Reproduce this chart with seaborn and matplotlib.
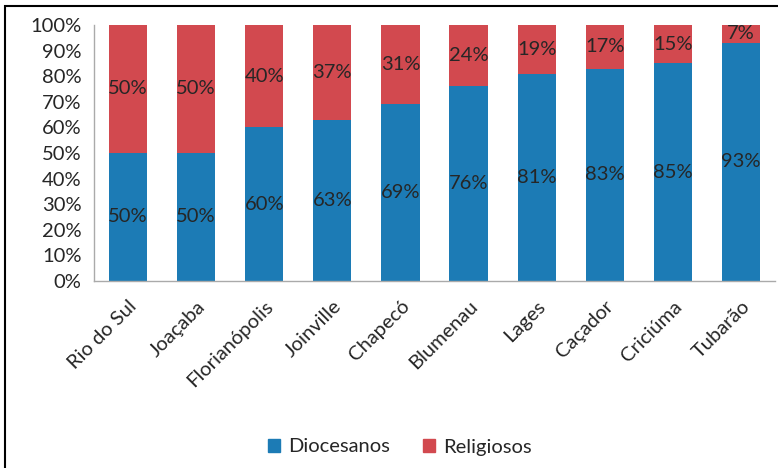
import numpy as np
import pandas as pd
import matplotlib
matplotlib.use("Agg")
import matplotlib.pyplot as plt
import seaborn as sns
from matplotlib.patches import Rectangle, Patch

cities = ["Rio do Sul", "Joaçaba", "Florianópolis", "Joinville", "Chapecó",
          "Blumenau", "Lages", "Caçador", "Criciúma", "Tubarão"]
diocesanos = [50, 50, 60, 63, 69, 76, 81, 83, 85, 93]
religiosos = [50, 50, 40, 37, 31, 24, 19, 17, 15, 7]

blue = "#1c7bb5"
red = "#d2494f"

sns.set_style("white")
plt.rcParams["font.family"] = ["Lato", "DejaVu Sans"]

df = pd.DataFrame({"city": cities, "Diocesanos": diocesanos, "Religiosos": religiosos})
df["total"] = df["Diocesanos"] + df["Religiosos"]

fig = plt.figure(figsize=(7.78, 4.68), dpi=100)
ax = fig.add_axes([94 / 778, 1 - 281 / 468, (775 - 94) / 778, (281 - 25) / 468])

# stacked: draw total in red, then blue on top
sns.barplot(data=df, x="city", y="total", color=red, width=0.56, ax=ax,
            saturation=1, edgecolor="none")
sns.barplot(data=df, x="city", y="Diocesanos", color=blue, width=0.56, ax=ax,
            saturation=1, edgecolor="none")

fs = 14.5
for i, (d, r) in enumerate(zip(diocesanos, religiosos)):
    ax.text(i, d / 2, f"{d}%", ha="center", va="center", fontsize=fs, color="#262626")
    ax.text(i, d + r / 2, f"{r}%", ha="center", va="center", fontsize=fs, color="#262626")

ax.set_ylim(0, 100)
ax.set_xlim(-0.5, len(cities) - 0.5)
ax.set_yticks(np.arange(0, 101, 10))
ax.set_yticklabels([f"{v}%" for v in range(0, 101, 10)], fontsize=fs, color="#262626")
ax.set_xticks(range(len(cities)))
ax.set_xticklabels(cities, rotation=45, ha="right", rotation_mode="anchor",
                   fontsize=fs, color="#262626")
ax.tick_params(axis="y", length=0, pad=9)
ax.tick_params(axis="x", length=0, pad=12)
ax.set_xlabel("")
ax.set_ylabel("")
for s in ["top", "right"]:
    ax.spines[s].set_visible(False)
for s in ["left", "bottom"]:
    ax.spines[s].set_color("#aaaaaa")
    ax.spines[s].set_linewidth(1)

handles = [Patch(color=blue, label="Diocesanos"), Patch(color=red, label="Religiosos")]
fig.legend(handles=handles, loc="center", bbox_to_anchor=(0.514, 1 - 447 / 468), ncol=2,
           frameon=False, fontsize=fs, handlelength=0.6, handleheight=0.6,
           handletextpad=0.4, columnspacing=1.6)

fig.patches.append(Rectangle((5 / 778, -0.05), 1.1, 0.05 + 1 - 6 / 468,
                             transform=fig.transFigure, fill=False,
                             edgecolor="black", linewidth=1.5))

fig.savefig("out.png", dpi=100)
